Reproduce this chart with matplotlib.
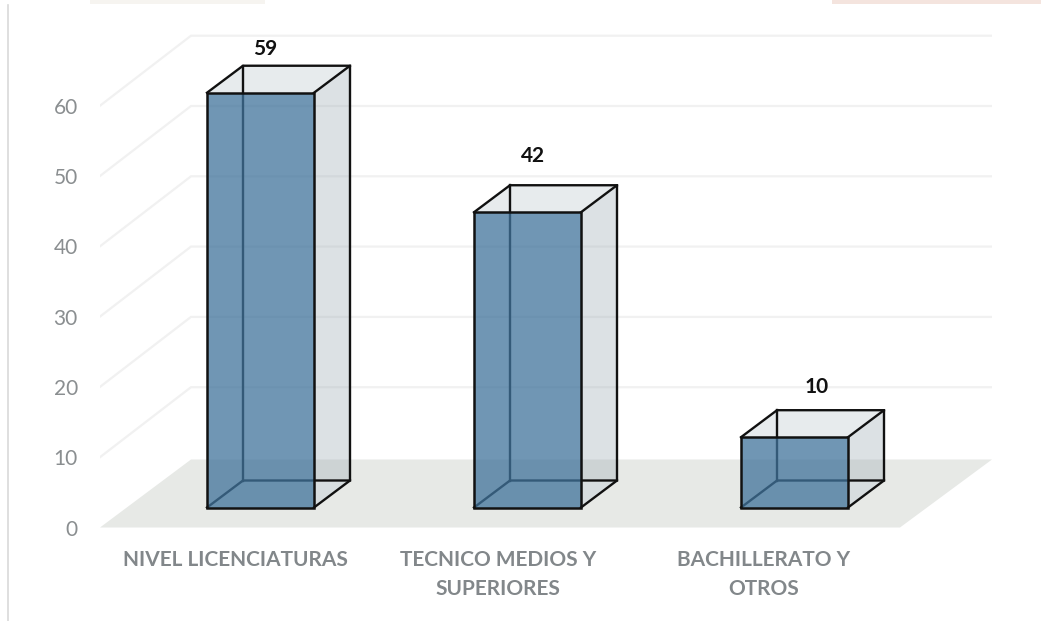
import matplotlib
matplotlib.use("Agg")
from matplotlib import pyplot as plt
from matplotlib.patches import Polygon, Rectangle
from matplotlib.lines import Line2D

categories = ["NIVEL LICENCIATURAS", "TECNICO MEDIOS Y\nSUPERIORES", "BACHILLERATO Y\nOTROS"]
values = [59, 42, 10]
y_ticks = [0, 10, 20, 30, 40, 50, 60]

W, H = 1041, 621
# px per unit
PX_X = 267.0
PX_Y = 7.03
BASE = 507.5
bar_w = 107 / PX_X
# bar depth
dx = 36 / PX_X
dy = 27 / PX_Y
# floor depth and how far the floor front sits below the bar base
fdx = 91 / PX_X
fdy = 70 / PX_Y
drop = 20 / PX_Y
label_gap = [44, 56, 50]  # px above the bar front top
label_side = [5, 6, 22]  # px right of the bar centre
label_shift = [-0.092, -0.11, -0.115]  # category labels sit left of the bars

plt.rcParams['font.family'] = ['Lato', 'DejaVu Sans']
fig = plt.figure(figsize=(W / 100, H / 100), dpi=100)
left, right, bottom, top = 100, 992, 527.5, 20
ax = fig.add_axes([left / W, 1 - bottom / H, (right - left) / W, (bottom - top) / H])
x0 = (left - 260.5) / PX_X
x1 = (right - 260.5) / PX_X
ax.set_xlim(x0, x1)
ax.set_ylim(-drop, (BASE - top) / PX_Y)
for s in ax.spines.values():
    s.set_visible(False)

# floor
floor_r = (900 - 260.5) / PX_X
floor_back = -drop + 68 / PX_Y
ax.add_patch(Polygon([(x0, -drop), (floor_r, -drop), (x1, floor_back), (x0 + fdx, floor_back)],
                     fc="#e7e9e6", ec="none", zorder=1))

# gridlines, skip the floor one
for v in y_ticks[1:]:
    y = v - drop
    ax.plot([x0, x0 + fdx, x1], [y, y + fdy, y + fdy], color="#f1f1f1", lw=1.6, zorder=1.5,
            solid_joinstyle="miter")

ec = "#111111"
for i, v in enumerate(values):
    l = i - bar_w / 2
    r = i + bar_w / 2
    # side and top faces
    ax.add_patch(Polygon([(r, 0), (r + dx, dy), (r + dx, v + dy), (r, v)], fc="#9fadb6", alpha=0.36, ec="none", zorder=2))
    ax.add_patch(Polygon([(l, v), (r, v), (r + dx, v + dy), (l + dx, v + dy)], fc="#d5dcdf", alpha=0.55, ec="none", zorder=2))
    ax.add_patch(Polygon([(l, 0), (r, 0), (r + dx, dy), (l + dx, dy)], fc="#dfe4e7", alpha=0.6, ec="none", zorder=2))
    # hidden edges first so the front face tints them
    ax.plot([l, l + dx, r + dx], [0, dy, dy], color=ec, lw=1.7, zorder=3)
    ax.plot([l + dx, l + dx], [dy, v + dy], color=ec, lw=1.7, zorder=3)
    # front face
    ax.add_patch(Rectangle((l, 0), bar_w, v, fc="#40739b", alpha=0.75, ec="none", zorder=4))
    ax.add_patch(Rectangle((l, 0), bar_w, v, fc="none", ec=ec, lw=1.8, zorder=5))
    # outer edges
    ax.plot([r, r + dx, r + dx, r], [0, dy, v + dy, v], color=ec, lw=1.7, zorder=5, solid_joinstyle="round")
    ax.plot([l, l + dx, r + dx], [v, v + dy, v + dy], color=ec, lw=1.7, zorder=5, solid_joinstyle="round")
    ax.annotate(str(v), (i, v), xytext=(label_side[i] * 0.72, label_gap[i] * 0.72), textcoords="offset points",
                ha="center", va="center", fontsize=15, fontweight="bold", color="#111111", zorder=6)

ax.set_yticks([v - drop for v in y_ticks], [str(v) for v in y_ticks])
ax.set_xticks([i + label_shift[i] for i in range(len(categories))], categories)
ax.tick_params(axis="y", length=0, pad=16, labelsize=15, labelcolor="#8a8e90")
ax.tick_params(axis="x", length=0, pad=16, labelsize=15)
for t in ax.get_xticklabels():
    t.set_fontweight("bold")
    t.set_color("#82878a")
    t.set_linespacing(1.55)

# left frame line and the scraps of the page at the top edge
fig.add_artist(Line2D([8 / W, 8 / W], [0, 1 - 5 / H], color="#d9d9d9", lw=1.2))
fig.add_artist(Rectangle((90 / W, 1 - 4 / H), 175 / W, 4 / H, fc="#f6f4f0", ec="none"))
fig.add_artist(Rectangle((832 / W, 1 - 4 / H), 209 / W, 4 / H, fc="#f4e4de", ec="none"))

fig.savefig("out.png", dpi=100)
